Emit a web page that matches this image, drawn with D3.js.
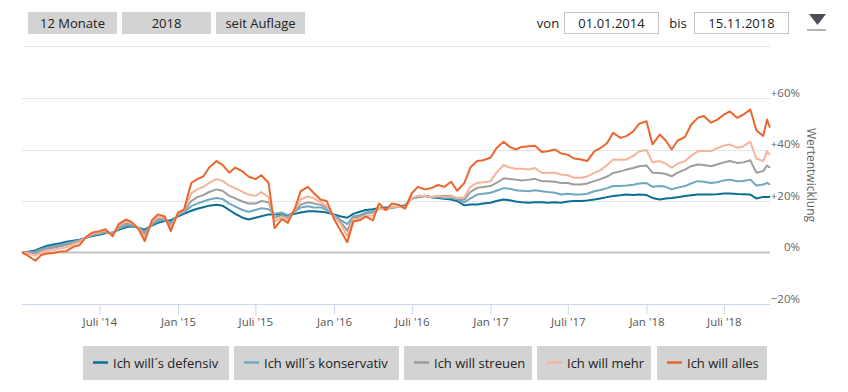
<!DOCTYPE html>
<html>
<head>
<meta charset="utf-8">
<script src="https://cdn.jsdelivr.net/npm/d3@7"></script>
<style>
body { margin: 0; background: #fff; }
svg { font-family: "Open Sans", sans-serif; display: block; }
</style>
</head>
<body>
<div id="chart"></div>
<script>
// data (percent change since 01.01.2014)
var dates = ["2014-01-01","2014-01-15","2014-02-01","2014-02-15","2014-03-01","2014-03-15","2014-04-01","2014-04-15","2014-05-01","2014-05-15","2014-06-01","2014-06-15","2014-07-01","2014-07-15","2014-08-01","2014-08-15","2014-09-01","2014-09-15","2014-10-01","2014-10-15","2014-11-01","2014-11-15","2014-12-01","2014-12-15",
"2015-01-01","2015-01-15","2015-02-01","2015-02-15","2015-03-01","2015-03-15","2015-04-01","2015-04-15","2015-05-01","2015-05-15","2015-06-01","2015-06-15","2015-07-01","2015-07-15","2015-08-01","2015-08-15","2015-09-01","2015-09-15","2015-10-01","2015-10-15","2015-11-01","2015-11-15","2015-12-01","2015-12-15",
"2016-01-01","2016-01-15","2016-02-01","2016-02-15","2016-03-01","2016-03-15","2016-04-01","2016-04-15","2016-05-01","2016-05-15","2016-06-01","2016-06-15","2016-07-01","2016-07-15","2016-08-01","2016-08-15","2016-09-01","2016-09-15","2016-10-01","2016-10-15","2016-11-01","2016-11-15","2016-12-01","2016-12-15",
"2017-01-01","2017-01-15","2017-02-01","2017-02-15","2017-03-01","2017-03-15","2017-04-01","2017-04-15","2017-05-01","2017-05-15","2017-06-01","2017-06-15","2017-07-01","2017-07-15","2017-08-01","2017-08-15","2017-09-01","2017-09-15","2017-10-01","2017-10-15","2017-11-01","2017-11-15","2017-12-01","2017-12-15",
"2018-01-01","2018-01-15","2018-02-01","2018-02-15","2018-03-01","2018-03-15","2018-04-01","2018-04-15","2018-05-01","2018-05-15","2018-06-01","2018-06-15","2018-07-01","2018-07-15","2018-08-01","2018-08-15","2018-09-01","2018-09-15","2018-10-01","2018-10-10","2018-10-17"];

var defensiv = [0,0.3,0.8,1.8,2.6,3.1,3.6,4.2,4.6,5.0,5.8,6.4,6.9,7.5,7.8,8.8,9.8,10.2,9.6,8.9,10.5,11.5,12.2,12.5,
14.1,15.0,16.2,17.0,17.6,18.2,18.5,18.2,16.5,15.0,13.5,12.8,13.5,14.1,14.8,14.8,14.8,14.5,15.0,15.5,16.0,16.0,15.8,15.5,
14.8,14.1,13.5,15.0,15.8,16.5,16.8,17.3,17.5,17.5,18.0,18.3,21.0,21.5,21.9,21.5,21.2,20.9,20.6,20.0,18.3,18.6,18.6,19.0,
19.3,20.0,20.6,20.3,19.8,19.5,19.3,19.5,19.5,19.3,19.5,19.3,19.8,20.0,20.0,20.2,20.6,21.0,21.5,21.9,22.2,22.5,22.3,22.5,
22.3,21.2,20.6,21.0,21.2,21.5,21.9,22.2,22.5,22.5,22.5,22.6,22.9,22.9,22.7,22.6,22.5,21.0,21.6,21.6,21.6];

var konservativ = [0,0.1,0.3,1.3,2.0,2.4,3.0,3.6,4.2,4.8,5.9,6.7,7.2,7.8,7.5,9.2,10.4,10.6,9.7,8.0,10.8,12.2,12.6,11.6,
14.5,15.6,18.0,19.0,19.8,20.6,21.2,20.8,19.0,17.8,16.5,15.8,16.5,17.2,16.8,15.0,15.5,14.5,15.8,17.5,18.0,17.5,17.5,16.5,
14.5,12.8,11.0,14.0,14.5,15.5,16.0,17.0,17.0,17.3,17.8,18.0,21.0,21.5,22.0,21.5,21.5,21.3,21.2,20.8,19.5,21.0,22.5,22.8,
23.2,24.0,25.0,24.8,24.2,24.0,23.8,24.2,23.8,23.5,23.2,22.5,22.8,22.5,22.5,22.8,23.8,24.3,25.0,25.8,25.8,26.0,26.3,26.8,
27.0,25.5,25.8,25.5,24.5,25.2,25.8,26.8,27.7,27.5,27.0,27.3,28.0,28.3,27.7,27.8,28.3,26.0,26.4,27.0,26.4];

var streuen = [0,0,-0.3,0.8,1.5,1.8,2.4,3.0,3.8,4.6,6.0,7.0,7.5,8.2,7.2,9.8,11.2,11.0,9.6,7.0,11.2,13.0,13.0,10.6,
14.9,16.0,20.0,21.5,22.3,23.5,24.5,24.0,22.0,21.0,19.8,19.0,19.0,20.0,19.5,13.5,14.5,13.5,16.0,18.6,19.5,19.0,18.5,17.3,
14.0,12.2,8.5,13.5,14.0,15.0,15.5,17.0,16.8,17.5,17.8,17.5,21.0,21.5,22.0,21.5,22.0,21.8,22.0,21.0,20.5,23.5,25.1,25.4,
25.8,27.0,28.8,28.5,28.3,28.0,28.3,28.6,27.7,27.7,27.5,27.0,27.0,26.4,26.4,26.8,27.7,28.5,29.5,30.9,31.5,32.2,32.8,33.5,
33.8,31.0,30.9,30.5,29.6,31.0,32.2,33.5,34.2,34.0,33.5,34.2,35.0,35.5,34.8,35.0,35.8,31.0,31.6,33.8,32.9];

var mehr = [0,-0.3,-1.2,0,0.8,1.0,1.6,2.0,3.2,4.0,6.1,7.4,7.9,8.6,6.8,10.4,12.0,11.4,9.4,5.8,11.8,13.8,13.5,9.4,
15.2,16.4,23.0,24.5,25.5,27.0,28.5,27.8,26.0,25.0,23.5,22.5,22.0,23.5,21.5,12.0,13.8,12.5,16.5,20.6,21.8,21.0,19.5,18.0,
13.8,11.6,6.3,13.0,13.0,14.0,14.5,17.3,16.5,17.8,17.8,17.5,21.0,22.0,21.9,21.5,22.0,21.5,21.8,21.2,21.5,25.5,27.0,27.3,
27.7,31.0,34.0,33.0,32.5,32.5,32.2,32.8,30.9,31.0,31.0,30.3,30.0,29.0,29.0,29.5,30.9,32.0,34.0,36.1,36.0,36.1,37.5,39.3,
39.8,35.0,35.5,34.5,32.9,34.5,35.5,37.5,39.3,39.5,39.3,40.5,41.5,41.9,40.7,41.2,43.0,36.5,35.5,39.3,38.0];

var alles = [0,-1.2,-3.2,-1.0,-0.4,-0.2,0.4,0.5,2.2,2.8,6.2,7.8,8.3,9.0,6.3,11.0,12.8,11.8,9.0,4.4,12.5,14.8,14.0,8.3,
15.5,16.7,27.0,28.5,29.5,33.0,35.5,34.0,31.0,33.0,31.5,29.5,28.5,30.0,27.0,9.5,13.0,11.5,17.0,23.8,25.5,23.0,20.5,20.0,
13.0,8.9,4.0,12.0,12.5,14.0,12.5,19.0,16.5,19.0,18.5,17.0,23.0,25.5,24.5,25.0,26.2,25.5,27.5,24.0,27.0,33.0,35.5,35.8,
36.8,40.5,43.0,41.0,40.0,41.0,41.3,41.5,39.0,39.3,40.0,38.5,38.0,36.5,36.1,35.5,39.3,40.5,42.5,46.5,44.5,45.2,47.0,50.0,
51.0,42.0,45.8,43.5,40.0,43.5,44.8,49.5,52.3,53.0,50.4,51.5,53.5,54.8,52.3,53.5,55.5,47.5,45.2,51.6,48.5];

var seriesNames = ["Ich will\u00b4s defensiv", "Ich will\u00b4s konservativ", "Ich will streuen", "Ich will mehr", "Ich will alles"];
var seriesColors = ["#0a6f95", "#6ea8c1", "#9d9d9d", "#f5b39b", "#ea662d"];
var yTicks = [-20, 0, 20, 40, 60];
var xTicks = ["2014-07-01","2015-01-01","2015-07-01","2016-01-01","2016-07-01","2017-01-01","2017-07-01","2018-01-01","2018-07-01"];
var rangeButtons = ["12 Monate", "2018", "seit Auflage"];

var width = 848, height = 392;
var plot = {"left": 22, "right": 770, "top": 98, "bottom": 304};
var parse = d3.timeParse("%Y-%m-%d");

var svg = d3.select("#chart").append("svg")
    .attr("width", width)
    .attr("height", height);

// top controls
var btnX = [28, 122, 216];
svg.selectAll("rect.rb").data(rangeButtons).enter().append("rect")
    .attr("class", "rb")
    .attr("x", function(d, i){ return btnX[i]; })
    .attr("y", 12).attr("width", 89).attr("height", 22)
    .attr("fill", "#d3d3d3");
svg.selectAll("text.rb").data(rangeButtons).enter().append("text")
    .attr("class", "rb")
    .attr("x", function(d, i){ return btnX[i] + 44.5; })
    .attr("y", 27.5)
    .attr("text-anchor", "middle")
    .attr("font-size", 13).attr("fill", "#222")
    .text(function(d){ return d; });

var inputs = [{"label": "von", "value": "01.01.2014", "lx": 548, "bx": 564}, {"label": "bis", "value": "15.11.2018", "lx": 678, "bx": 694}];
inputs.forEach(function(inp){
    svg.append("text").attr("x", inp.lx).attr("y", 27.5).attr("text-anchor", "middle")
        .attr("font-size", 13).attr("fill", "#222").text(inp.label);
    svg.append("rect").attr("x", inp.bx + 0.5).attr("y", 12.5).attr("width", 94).attr("height", 21)
        .attr("fill", "#fff").attr("stroke", "#c4c4c4");
    svg.append("text").attr("x", inp.bx + 47.5).attr("y", 27.5).attr("text-anchor", "middle")
        .attr("font-size", 13).attr("fill", "#222").text(inp.value);
});
svg.append("path").attr("d", "M809,14 L826,14 L817.5,25 Z").attr("fill", "#4a4f55");
svg.append("line").attr("x1", 807).attr("x2", 826).attr("y1", 30).attr("y2", 30)
    .attr("stroke", "#9a9a9a").attr("stroke-width", 1.5);
svg.append("line").attr("x1", 23).attr("x2", 770).attr("y1", 46.5).attr("y2", 46.5)
    .attr("stroke", "#e6e6e6");

// scales
var xScale = d3.scaleTime()
    .domain([parse("2014-01-01"), parse("2018-10-17")])
    .range([plot.left, plot.right]);
var yScale = d3.scaleLinear()
    .domain([-20, 60])
    .range([plot.bottom, plot.top]);

// grid
svg.append("g").selectAll("line").data(yTicks.filter(function(d){ return d > 0; })).enter().append("line")
    .attr("x1", plot.left).attr("x2", plot.right)
    .attr("y1", function(d){ return Math.round(yScale(d)) + 0.5; })
    .attr("y2", function(d){ return Math.round(yScale(d)) + 0.5; })
    .attr("stroke", "#e6e6e6");
svg.append("line")
    .attr("x1", plot.left).attr("x2", plot.right)
    .attr("y1", yScale(0)).attr("y2", yScale(0))
    .attr("stroke", "#c3c3c3").attr("stroke-width", 2);

// right axis
var yAxis = d3.axisRight(yScale)
    .tickValues(yTicks)
    .tickSize(0)
    .tickFormat(function(d){ return d > 0 ? "+" + d + "%" : (d < 0 ? "\u2212" + Math.abs(d) + "%" : d + "%"); });
var gy = svg.append("g")
    .attr("transform", "translate(" + [800, 0] + ")")
    .call(yAxis);
gy.select(".domain").remove();
gy.selectAll("text")
    .attr("x", 0).attr("dy", "-2px")
    .attr("text-anchor", "end")
    .attr("font-family", "Open Sans, sans-serif")
    .attr("font-size", 11.5).attr("fill", "#666");

svg.append("text")
    .attr("transform", "translate(807,175) rotate(90)")
    .attr("text-anchor", "middle")
    .attr("font-size", 12).attr("fill", "#666")
    .text("Wertentwicklung");

// x axis
var xAxis = d3.axisBottom(xScale)
    .tickValues(xTicks.map(parse))
    .tickSize(10)
    .tickFormat(function(d){ return (d.getMonth() == 0 ? "Jan '" : "Juli '") + String(d.getFullYear()).slice(2); });
var gx = svg.append("g")
    .attr("transform", "translate(" + [0, plot.bottom + 0.5] + ")")
    .call(xAxis);
gx.select(".domain").attr("stroke", "#ccd6eb").attr("d", "M" + plot.left + ",0H" + plot.right);
gx.selectAll(".tick line").attr("stroke", "#ccd6eb");
gx.selectAll("text")
    .attr("y", 13).attr("dy", "0.71em")
    .attr("font-family", "Open Sans, sans-serif")
    .attr("font-size", 11.5).attr("fill", "#555");

// lines
var seriesData = [defensiv, konservativ, streuen, mehr, alles];
var line = d3.line()
    .x(function(d, i){ return xScale(parse(dates[i])); })
    .y(function(d){ return yScale(d); });
svg.append("g").selectAll("path").data(seriesData).enter().append("path")
    .attr("d", line)
    .attr("fill", "none")
    .attr("stroke", function(d, i){ return seriesColors[i]; })
    .attr("stroke-width", 2)
    .attr("stroke-linejoin", "round");

// legend
var legX = [83, 234, 404, 537, 657];
var legW = [146, 165, 128, 114, 110];
var leg = svg.append("g").selectAll("g").data(seriesNames).enter().append("g")
    .attr("transform", function(d, i){ return "translate(" + [legX[i], 346] + ")"; });
leg.append("rect").attr("width", function(d, i){ return legW[i]; }).attr("height", 34).attr("fill", "#d3d3d3");
leg.append("line").attr("x1", 10).attr("x2", 25).attr("y1", 16.5).attr("y2", 16.5)
    .attr("stroke", function(d, i){ return seriesColors[i]; }).attr("stroke-width", 2.5);
leg.append("text").attr("x", 30).attr("y", 21.5)
    .attr("font-size", 13).attr("fill", "#222")
    .text(function(d){ return d; });
</script>
</body>
</html>
